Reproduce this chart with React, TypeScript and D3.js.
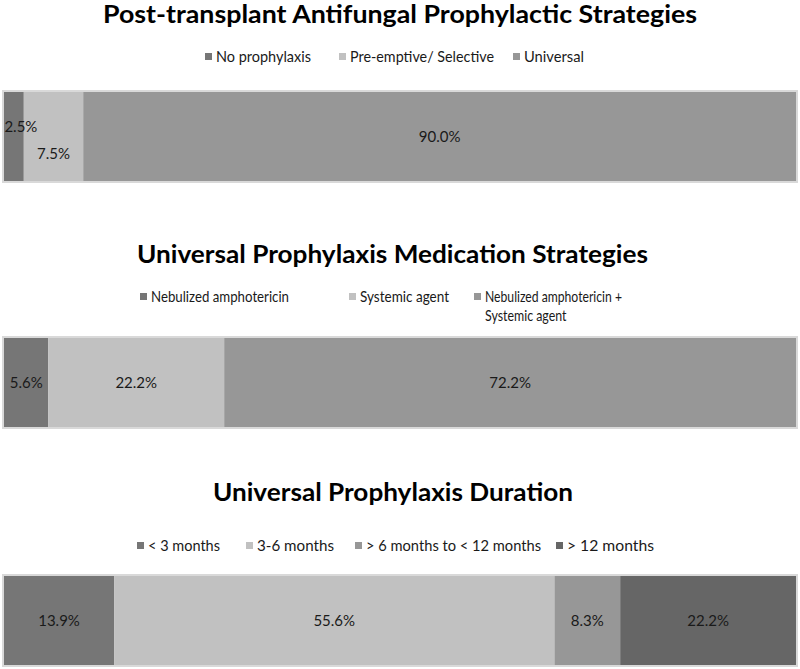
import React from "react";
import * as d3 from "d3";

const titles = [
  "Post-transplant Antifungal Prophylactic Strategies",
  "Universal Prophylaxis Medication Strategies",
  "Universal Prophylaxis Duration",
];

const strategyCategories = ["No prophylaxis", "Pre-emptive/ Selective", "Universal"];
const strategyValues = [2.5, 7.5, 90.0];

const medicationCategories = [
  "Nebulized amphotericin",
  "Systemic agent",
  "Nebulized amphotericin +\nSystemic agent",
];
const medicationValues = [5.6, 22.2, 72.2];

const durationCategories = ["< 3 months", "3-6 months", "> 6 months to < 12 months", "> 12 months"];
const durationValues = [13.9, 55.6, 8.3, 22.2];

const strategyColors = ["#767676", "#c1c1c1", "#979797"];
const medicationColors = ["#767676", "#c1c1c1", "#979797"];
const durationColors = ["#767676", "#c1c1c1", "#979797", "#666666"];

const W = 800;
const H = 669;
const FONT = "Lato, 'Open Sans', sans-serif";

type Panel = {
  title: string;
  titleY: number;
  titleX0: number;
  titleX1: number;
  cats: string[];
  vals: number[];
  colors: string[];
  legendY: number;
  legendX: number[];
  legendW: number[];
  barY: number;
  labelDy: number[];
  labelDx: number[];
};

const panels: Panel[] = [
  {
    title: titles[0],
    titleY: 23,
    titleX0: 103,
    titleX1: 697,
    cats: strategyCategories,
    vals: strategyValues,
    colors: strategyColors,
    legendY: 57,
    legendX: [205, 339, 513],
    legendW: [95, 144, 60],
    barY: 92,
    labelDy: [-10, 17, 0],
    labelDx: [7, 0, 0],
  },
  {
    title: titles[1],
    titleY: 263,
    titleX0: 137,
    titleX1: 648,
    cats: medicationCategories,
    vals: medicationValues,
    colors: medicationColors,
    legendY: 297,
    legendX: [140, 349, 474],
    legendW: [138, 89, 137],
    barY: 338,
    labelDy: [0, 0, 0],
    labelDx: [0, 0, 0],
  },
  {
    title: titles[2],
    titleY: 501,
    titleX0: 213,
    titleX1: 573,
    cats: durationCategories,
    vals: durationValues,
    colors: durationColors,
    legendY: 546,
    legendX: [137, 246, 355, 556],
    legendW: [72, 77, 175, 87],
    barY: 576,
    labelDy: [0, 0, 0, 0],
    labelDx: [0, 0, 0, 0],
  },
];

const BAR_H = 89;
const x = d3.scaleLinear().domain([0, 100]).range([4, 796]);
const fmt = (v: number) => d3.format(".1f")(v) + "%";

function PanelView({ p }: { p: Panel }) {
  const cum = d3.cumsum(p.vals);
  const starts = p.vals.map((v, i) => cum[i] - v);
  return (
    <g>
      <text
        x={p.titleX0}
        y={p.titleY}
        textLength={p.titleX1 - p.titleX0}
        lengthAdjust="spacingAndGlyphs"
        fontFamily={FONT}
        fontWeight={700}
        fontSize={24}
        fill="#000"
      >
        {p.title}
      </text>
      {p.cats.map((c, i) => {
        const lines = c.split("\n");
        return (
          <g key={c}>
            <rect x={p.legendX[i]} y={p.legendY - 4} width={7} height={7} fill={p.colors[i]} />
            {lines.map((ln, j) => (
              <text
                key={j}
                x={p.legendX[i] + 11}
                y={p.legendY + 5 + j * 19}
                textLength={j === 0 ? p.legendW[i] : p.legendW[i] * (ln.length / lines[0].length) * 1.02}
                lengthAdjust="spacingAndGlyphs"
                fontFamily={FONT}
                fontSize={15}
                fill="#1a1a1a"
              >
                {ln}
              </text>
            ))}
          </g>
        );
      })}
      <rect
        x={x(0) - 1}
        y={p.barY - 1}
        width={x(100) - x(0) + 2}
        height={BAR_H + 2}
        fill="none"
        stroke="#d9d9d9"
        strokeWidth={2}
      />
      {p.vals.map((v, i) => (
        <rect
          key={i}
          x={x(starts[i])}
          y={p.barY}
          width={x(starts[i] + v) - x(starts[i])}
          height={BAR_H}
          fill={p.colors[i]}
        />
      ))}
      {p.vals.map((v, i) => (
        <text
          key={"l" + i}
          x={(x(starts[i]) + x(starts[i] + v)) / 2 + p.labelDx[i]}
          y={p.barY + BAR_H / 2 + 5 + p.labelDy[i]}
          textAnchor="middle"
          fontFamily={FONT}
          fontSize={15}
          fill="#1a1a1a"
        >
          {fmt(v)}
        </text>
      ))}
    </g>
  );
}

export default function App() {
  return (
    <svg
      width={W}
      height={H}
      viewBox={`0 0 ${W} ${H}`}
      style={{ position: "absolute", left: 0, top: 0, background: "#fff" }}
    >
      <rect width={W} height={H} fill="#fff" />
      {panels.map((p, i) => (
        <PanelView key={i} p={p} />
      ))}
    </svg>
  );
}
